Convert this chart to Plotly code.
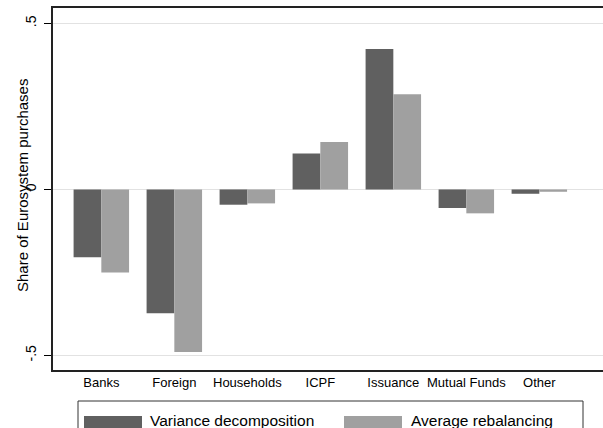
import plotly.graph_objects as go

categories = ["Banks", "Foreign", "Households", "ICPF", "Issuance", "Mutual Funds", "Other"]
variance_decomposition = [-0.204, -0.373, -0.046, 0.108, 0.423, -0.056, -0.013]
average_rebalancing = [-0.250, -0.490, -0.042, 0.143, 0.287, -0.072, -0.007]
series_names = ["Variance decomposition", "Average rebalancing"]
y_tickvals = [-0.5, 0, 0.5]
y_ticktext = ["-.5", "0", ".5"]

DARK = "#606060"
LIGHT = "#a0a0a0"
FONT = "Liberation Sans, Arial, sans-serif"

W, H = 603, 428
L, R, T, B = 53, 0, 8, 58
PW, PH = W - L - R, H - T - B


def px_x(x):
    return (x - L) / PW


def px_y(y):
    return (H - B - y) / PH


fig = go.Figure()
fig.add_trace(go.Bar(x=list(range(len(categories))), y=variance_decomposition,
                     name=series_names[0], marker=dict(color=DARK, line=dict(width=0)),
                     showlegend=False))
fig.add_trace(go.Bar(x=list(range(len(categories))), y=average_rebalancing,
                     name=series_names[1], marker=dict(color=LIGHT, line=dict(width=0)),
                     showlegend=False))

fig.update_layout(
    width=W, height=H,
    margin=dict(l=L, r=R, t=T, b=B, pad=0),
    paper_bgcolor="white", plot_bgcolor="white",
    barmode="group", bargap=0.24, bargroupgap=0,
    font=dict(family=FONT, color="black"),
    showlegend=False,
)

fig.update_xaxes(
    range=[-0.662, -0.662 + PW / 73.0],
    tickvals=list(range(len(categories))), ticktext=categories,
    tickfont=dict(size=13, family=FONT, color="black"),
    ticks="", showgrid=False, zeroline=False,
    showline=True, linecolor="#222222", linewidth=1.5, mirror=True,
)

fig.update_yaxes(
    range=[-0.544, 0.5467],
    tickvals=y_tickvals, ticktext=y_ticktext, tickangle=-90,
    tickfont=dict(size=14, family=FONT, color="black"),
    ticks="outside", ticklen=7, tickwidth=1, tickcolor="black",
    ticklabelstandoff=3,
    showgrid=True, gridcolor="#e2e2e2", gridwidth=1.3,
    zeroline=False,
    showline=True, linecolor="#222222", linewidth=1.5,
)

# y-axis title
fig.add_annotation(
    text="Share of Eurosystem purchases", textangle=-90,
    xref="paper", yref="paper", x=px_x(22), y=px_y(186),
    xanchor="center", yanchor="middle", showarrow=False,
    font=dict(size=15, family=FONT, color="black"),
)

# legend box
fig.add_shape(type="rect", xref="paper", yref="paper",
              x0=px_x(78), x1=px_x(583), y0=px_y(401), y1=px_y(445),
              line=dict(color="#333333", width=1), fillcolor="white", layer="above")
legend_items = [(84, 142, DARK, 148, series_names[0]),
                (344, 402, LIGHT, 409, series_names[1])]
for x0, x1, col, tx, label in legend_items:
    fig.add_shape(type="rect", xref="paper", yref="paper",
                  x0=px_x(x0), x1=px_x(x1), y0=px_y(416), y1=px_y(433),
                  line=dict(width=0), fillcolor=col, layer="above")
    fig.add_annotation(text=label, xref="paper", yref="paper",
                       x=px_x(tx), y=px_y(421), xanchor="left", yanchor="middle",
                       showarrow=False, font=dict(size=15.5, family=FONT, color="black"))

fig.write_html("out.html", config={"displayModeBar": False},
               post_script="document.body.style.margin='0';document.body.style.overflow='hidden';")
